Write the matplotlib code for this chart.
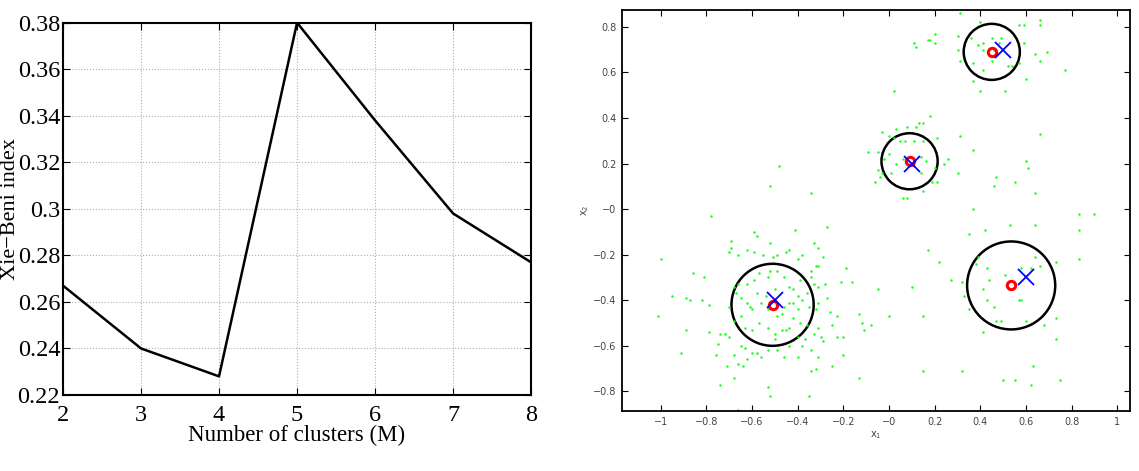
import numpy as np
import matplotlib
matplotlib.use("Agg")
import matplotlib.pyplot as plt
from matplotlib.patches import Circle

# left panel: Xie-Beni index vs number of clusters
n_clusters = [2, 3, 4, 5, 6, 7, 8]
xie_beni = [0.267, 0.240, 0.228, 0.380, 0.338, 0.298, 0.277]

# right panel: true centres (x), estimated centres (o) and cluster radii
true_cx = [-0.50, 0.10, 0.50, 0.60]
true_cy = [-0.40, 0.20, 0.70, -0.30]
est_cx = [-0.51, 0.09, 0.45, 0.535]
est_cy = [-0.42, 0.21, 0.69, -0.335]
est_r = [0.18, 0.123, 0.123, 0.193]

# sample points (green dots)
pts_x = [0.31, 0.40, 0.36, 0.30, 0.41, 0.45, 0.48, 0.49, 0.46, 0.41, 0.39, 0.30, 0.31,
         0.37, 0.41, 0.45, 0.52, 0.54, 0.57, 0.59, 0.57, 0.59, 0.66, 0.66, 0.64, 0.69,
         0.66, 0.60, 0.51, 0.40, 0.37, 0.77, 0.11, 0.12, 0.17, 0.18, 0.20, 0.20, 0.02,
         0.18, 0.13, 0.15, 0.12, 0.08, 0.03, -0.03, 0.00, 0.02, 0.05, 0.07, 0.11, 0.15,
         0.21, -0.09, -0.05, -0.02, 0.00, 0.03, 0.06, 0.14, 0.16, 0.11, 0.26, 0.24, -0.05,
         -0.03, 0.01, 0.14, 0.20, -0.06, -0.04, 0.19, 0.21, 0.15, 0.08, 0.06, 0.31, 0.30,
         0.37, 0.46, 0.47, 0.55, 0.60, 0.61, 0.66, 0.64, 0.37, -0.48, -0.52, -0.34, -0.78,
         0.83, 0.90, 0.83, 0.64, 0.53, 0.42, 0.35, -0.27, -0.41, -0.59, -0.58, -0.69,
         -1.00, -0.86, -0.81, -0.95, -0.89, -0.87, -0.82, -0.79, -1.01, -0.89, -0.79, -0.74,
         -0.72, -0.75, -0.76, -0.70, -0.91, -0.74, -0.70, -0.69, -0.66, -0.62, -0.59, -0.55,
         -0.52, -0.51, -0.49, -0.45, -0.44, -0.40, -0.38, -0.33, -0.31, -0.29, -0.31, -0.32,
         -0.34, -0.34, -0.33, -0.31, -0.28, -0.27, -0.31, -0.32, -0.26, -0.23, -0.25, -0.31,
         -0.30, -0.29, -0.33, -0.34, -0.31, -0.25, -0.20, -0.19, -0.21, -0.16, -0.05, -0.13,
         -0.12, -0.11, -0.08, 0.00, -0.13, -0.32, -0.34, -0.35, -0.53, -0.52, -0.74, -0.66,
         -0.20, -0.23, -0.36, -0.39, -0.42, -0.45, -0.47, -0.50, -0.53, -0.56, -0.60, -0.63,
         -0.65, -0.66, -0.68, -0.64, -0.62, -0.58, -0.49, -0.46, -0.40, -0.44, -0.38, -0.37,
         -0.40, -0.44, -0.47, -0.49, -0.53, -0.56, -0.60, -0.62, -0.65, -0.67, -0.68, -0.66,
         -0.62, -0.59, -0.57, -0.53, -0.52, -0.49, -0.46, -0.44, -0.42, -0.40, -0.44, -0.38,
         -0.35, -0.40, -0.42, -0.39, -0.36, -0.50, -0.54, -0.58, -0.61, -0.68, -0.57, -0.60,
         -0.53, -0.50, -0.46, -0.49, -0.70, -0.65, -0.63, -0.68, -0.71,
         0.17, 0.22, 0.27, 0.32, 0.33, 0.35, 0.38, 0.39, 0.43, 0.44, 0.41, 0.43, 0.46, 0.49,
         0.47, 0.41, 0.51, 0.57, 0.58, 0.58, 0.62, 0.64, 0.66, 0.73, 0.60, 0.68, 0.73, 0.73,
         0.83, 0.63, 0.50, 0.55, 0.62, 0.75, 0.15, 0.10, 0.15, 0.32]
pts_y = [0.86, 0.82, 0.75, 0.76, 0.73, 0.75, 0.73, 0.75, 0.70, 0.70, 0.72, 0.70, 0.65,
         0.64, 0.61, 0.65, 0.63, 0.63, 0.64, 0.73, 0.81, 0.81, 0.83, 0.81, 0.68, 0.69,
         0.65, 0.57, 0.52, 0.52, 0.56, 0.61, 0.73, 0.71, 0.74, 0.74, 0.73, 0.77, 0.52,
         0.41, 0.38, 0.38, 0.36, 0.36, 0.35, 0.34, 0.32, 0.31, 0.30, 0.30, 0.30, 0.30,
         0.31, 0.25, 0.25, 0.22, 0.24, 0.20, 0.22, 0.23, 0.21, 0.19, 0.22, 0.20, 0.17,
         0.16, 0.16, 0.16, 0.18, 0.12, 0.14, 0.12, 0.12, 0.08, 0.05, 0.05, 0.32, 0.16,
         0.26, 0.10, 0.14, 0.12, 0.21, 0.18, 0.33, 0.07, 0.00, 0.19, 0.10, 0.07, -0.03,
         -0.02, -0.02, -0.09, -0.07, -0.07, -0.09, -0.11, -0.08, -0.09, -0.10, -0.12, -0.14,
         -0.22, -0.28, -0.30, -0.38, -0.39, -0.40, -0.40, -0.42, -0.47, -0.53, -0.54, -0.55,
         -0.55, -0.59, -0.64, -0.56, -0.63, -0.77, -0.19, -0.17, -0.20, -0.18, -0.19, -0.20,
         -0.15, -0.21, -0.20, -0.19, -0.18, -0.22, -0.20, -0.15, -0.17, -0.21, -0.25, -0.25,
         -0.27, -0.30, -0.33, -0.34, -0.33, -0.39, -0.41, -0.44, -0.45, -0.47, -0.51, -0.52,
         -0.56, -0.58, -0.55, -0.62, -0.65, -0.69, -0.64, -0.26, -0.32, -0.32, -0.35, -0.46,
         -0.50, -0.53, -0.51, -0.47, -0.74, -0.70, -0.71, -0.82, -0.78, -0.82, -0.89, -0.88,
         -0.56, -0.56, -0.51, -0.50, -0.48, -0.53, -0.53, -0.57, -0.62, -0.65, -0.63, -0.61,
         -0.60, -0.68, -0.74, -0.69, -0.66, -0.63, -0.62, -0.65, -0.65, -0.60, -0.60, -0.57,
         -0.56, -0.52, -0.46, -0.42, -0.44, -0.41, -0.44, -0.41, -0.39, -0.37, -0.34, -0.33,
         -0.33, -0.31, -0.28, -0.30, -0.27, -0.27, -0.30, -0.34, -0.35, -0.38, -0.41, -0.40,
         -0.43, -0.44, -0.41, -0.31, -0.37, -0.35, -0.38, -0.37, -0.43, -0.49, -0.50, -0.53,
         -0.52, -0.55, -0.43, -0.47, -0.43, -0.47, -0.52, -0.64, -0.69,
         -0.18, -0.23, -0.31, -0.32, -0.38, -0.44, -0.24, -0.21, -0.26, -0.31, -0.35, -0.40,
         -0.43, -0.49, -0.49, -0.54, -0.29, -0.40, -0.40, -0.26, -0.26, -0.21, -0.25, -0.23,
         -0.49, -0.51, -0.48, -0.57, -0.22, -0.69, -0.75, -0.75, -0.77, -0.75, -0.71, -0.34,
         -0.47, -0.71]

fig = plt.figure(figsize=(11.39, 4.71), dpi=100)
serif = "Liberation Serif"

# ---- left: Xie-Beni index
ax0 = fig.add_axes([0.0553, 0.1614, 0.411, 0.7905])
ax0.plot(n_clusters, xie_beni, color="black", lw=1.8)
ax0.set_xlim(2, 8)
ax0.set_ylim(0.22, 0.38)
ax0.set_xticks(n_clusters)
ax0.set_yticks(np.arange(0.22, 0.381, 0.02))
ax0.set_yticklabels(["0.22", "0.24", "0.26", "0.28", "0.3", "0.32", "0.34", "0.36", "0.38"])
ax0.grid(True, color="#b0b0b0", ls=":", lw=0.8)
ax0.tick_params(direction="in", top=True, right=True, labelsize=17.5, length=5)
ax0.tick_params(axis="x", pad=7)
ax0.tick_params(axis="y", pad=2)
for lab in ax0.get_xticklabels() + ax0.get_yticklabels():
    lab.set_family(serif)
ax0.set_xlabel("Number of clusters (M)", family=serif, fontsize=16.5)
ax0.xaxis.set_label_coords(0.5, -0.08)
ax0.set_ylabel("Xie\u2212Beni index", family=serif, fontsize=16)
ax0.yaxis.set_label_coords(-0.091, 0.5)
for s in ax0.spines.values():
    s.set_linewidth(1.5)

# ---- right: data and clusters
ax1 = fig.add_axes([0.546, 0.1274, 0.446, 0.851])
ax1.plot(pts_x, pts_y, ".", color=(0.1, 1, 0.1), ms=3.6, mew=0)
for cx, cy, r in zip(est_cx, est_cy, est_r):
    ax1.add_patch(Circle((cx, cy), r, fill=False, ec="black", lw=1.8))
ax1.plot(est_cx, est_cy, "o", mfc="none", mec="red", ms=6, mew=2.2)
ax1.plot(true_cx, true_cy, "x", color="blue", ms=11, mew=1.3)
ax1.set_xlim(-1.17, 1.055)
ax1.set_ylim(-0.886, 0.873)
xt = np.round(np.arange(-1.0, 1.01, 0.2), 1)
yt = np.round(np.arange(-0.8, 0.81, 0.2), 1)
ax1.set_xticks(xt)
ax1.set_yticks(yt)
fmt = lambda v: ("%g" % v).replace("-", "\u2212")
ax1.set_xticklabels([fmt(v) for v in xt])
ax1.set_yticklabels([fmt(v) for v in yt])
ax1.tick_params(direction="in", top=True, right=True, labelsize=7, length=4,
                labelcolor="#444444", pad=4)
ax1.set_xlabel("x$_1$", fontsize=7, color="#444444", labelpad=2)
ax1.set_ylabel("x$_2$", fontsize=7, color="#444444", labelpad=1)
for s in ax1.spines.values():
    s.set_linewidth(1.3)

fig.savefig("out.png", dpi=100)
